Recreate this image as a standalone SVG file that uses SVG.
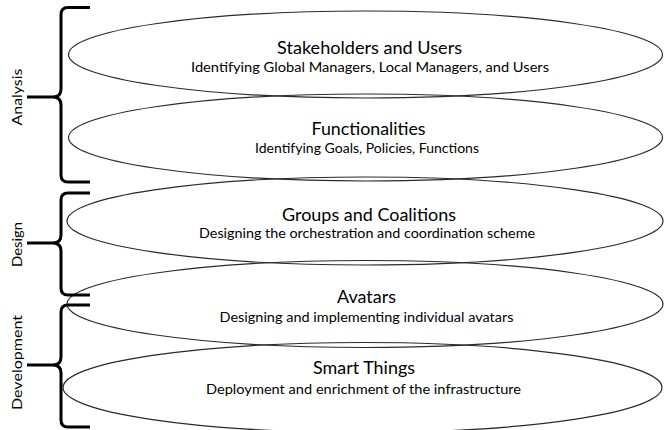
<svg xmlns="http://www.w3.org/2000/svg" width="664" height="430" viewBox="0 0 664 430">
<style>
.ell{fill:none;stroke:#2a2a2a;stroke-width:1.2}
.brace{fill:none;stroke:#000;stroke-width:3;stroke-linejoin:round}
text{font-family:Lato,"Open Sans","Liberation Sans",sans-serif;fill:#000;text-anchor:middle}
.t{font-size:17px}
.s{font-size:13px}
.side{font-size:13px}
</style>
<rect width="664" height="430" fill="#fff"/>
<g id="layer-stakeholders">
<ellipse class="ell" cx="365.5" cy="54.5" rx="297" ry="43.5"/>
<text class="t" x="369.5" y="54" textLength="185" lengthAdjust="spacingAndGlyphs">Stakeholders and Users</text>
<text class="s" x="370" y="72" textLength="358" lengthAdjust="spacingAndGlyphs">Identifying Global Managers, Local Managers, and Users</text>
</g>
<g id="layer-functionalities">
<ellipse class="ell" cx="365.5" cy="137.5" rx="297" ry="43.5"/>
<text class="t" x="368.5" y="135" textLength="114" lengthAdjust="spacingAndGlyphs">Functionalities</text>
<text class="s" x="367" y="153" textLength="224" lengthAdjust="spacingAndGlyphs">Identifying Goals, Policies, Functions</text>
</g>
<g id="layer-groups">
<ellipse class="ell" cx="365" cy="221" rx="298" ry="44"/>
<text class="t" x="369" y="221" textLength="174" lengthAdjust="spacingAndGlyphs">Groups and Coalitions</text>
<text class="s" x="367" y="237.5" textLength="336" lengthAdjust="spacingAndGlyphs">Designing the orchestration and coordination scheme</text>
</g>
<g id="layer-avatars">
<ellipse class="ell" cx="365" cy="304" rx="298" ry="43.5"/>
<text class="t" x="366.5" y="302.5" textLength="59" lengthAdjust="spacingAndGlyphs">Avatars</text>
<text class="s" x="366.5" y="321.5" textLength="294" lengthAdjust="spacingAndGlyphs">Designing and implementing individual avatars</text>
</g>
<g id="layer-smartthings">
<ellipse class="ell" cx="362.5" cy="387.5" rx="299.5" ry="45"/>
<text class="t" x="364" y="374" textLength="102" lengthAdjust="spacingAndGlyphs">Smart Things</text>
<text class="s" x="363.5" y="393.5" textLength="315" lengthAdjust="spacingAndGlyphs">Deployment and enrichment of the infrastructure</text>
</g>
<g id="phase-analysis">
<path class="brace" d="M90,7.5 H68 Q61,7.5 61,14.5 V89 Q61,97 53,97 H27 M53,97 Q61,97 61,105 V175 Q61,182 68,182 H90"/>
<text class="side" transform="translate(22,97) rotate(-90)" textLength="57" lengthAdjust="spacingAndGlyphs">Analysis</text>
</g>
<g id="phase-design">
<path class="brace" d="M90,193 H68 Q61,193 61,200 V235 Q61,243 53,243 H27 M53,243 Q61,243 61,251 V288 Q61,295 68,295 H90"/>
<text class="side" transform="translate(22,244.5) rotate(-90)" textLength="45" lengthAdjust="spacingAndGlyphs">Design</text>
</g>
<g id="phase-development">
<path class="brace" d="M90,305 H68 Q61,305 61,312 V357 Q61,365 53,365 H27 M53,365 Q61,365 61,373 V420 Q61,427 68,427 H90"/>
<text class="side" transform="translate(22,362.5) rotate(-90)" textLength="95" lengthAdjust="spacingAndGlyphs">Development</text>
</g>
<g id="connectors"/>
</svg>
